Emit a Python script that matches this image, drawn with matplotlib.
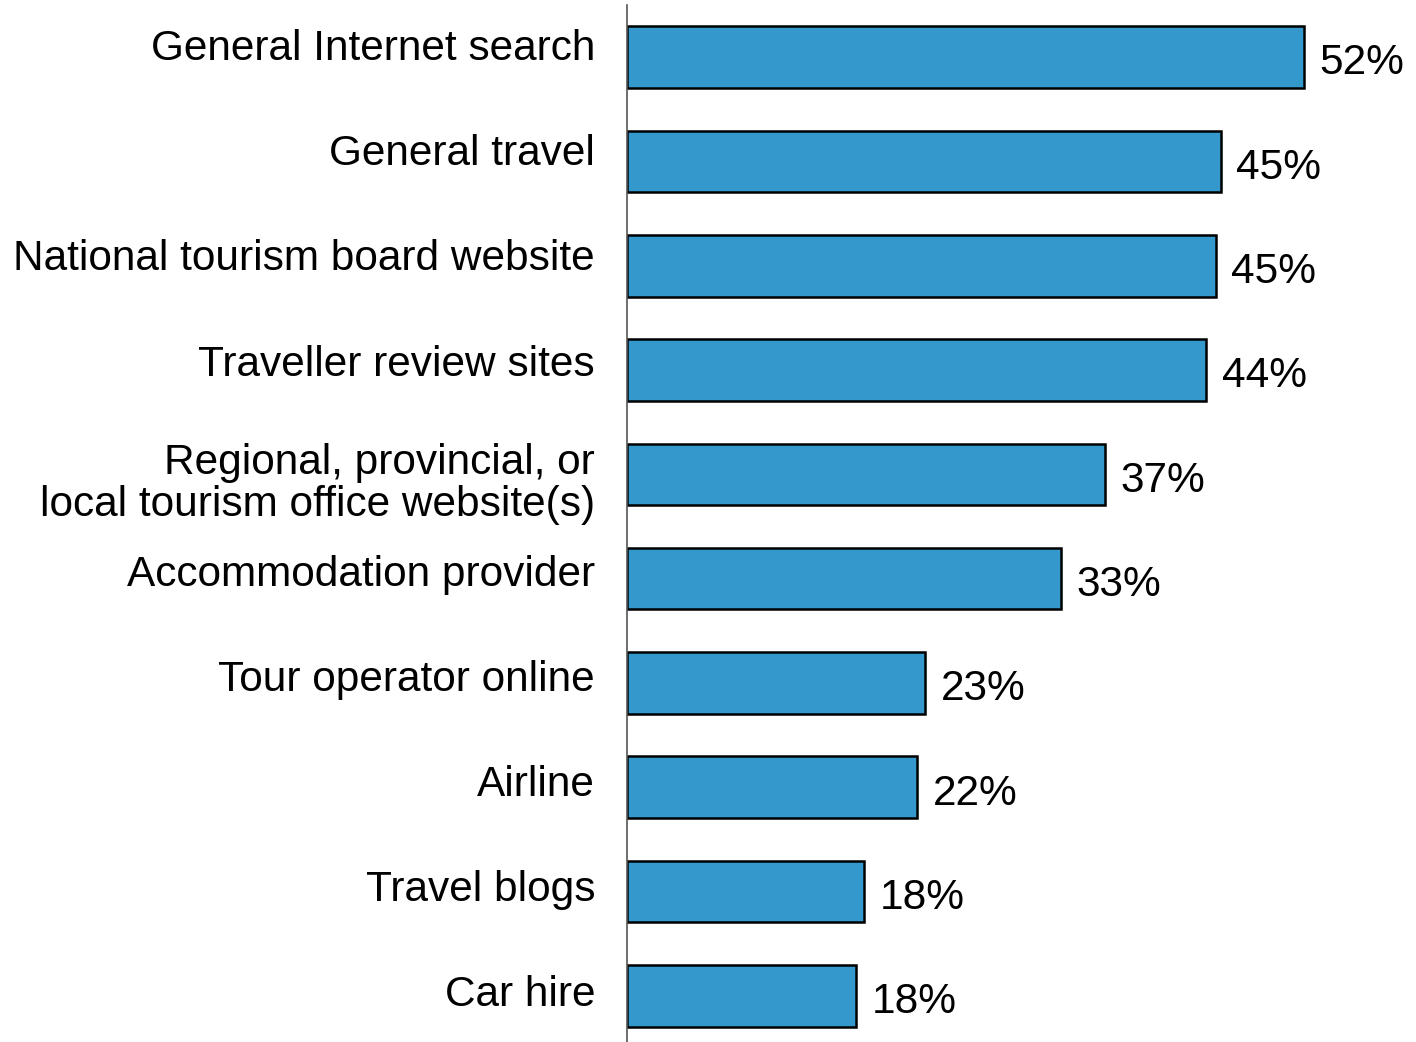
import matplotlib
matplotlib.use('Agg')
import matplotlib.pyplot as plt
from matplotlib.transforms import ScaledTranslation

# data (bar lengths slightly unrounded, labels rounded)
categories = ["General Internet search", "General travel", "National tourism board website",
              "Traveller review sites", "Regional, provincial, or\nlocal tourism office website(s)",
              "Accommodation provider", "Tour operator online", "Airline", "Travel blogs", "Car hire"]
values = [52.0, 45.6, 45.2, 44.5, 36.7, 33.3, 22.9, 22.3, 18.2, 17.6]
labels = ["52%", "45%", "45%", "44%", "37%", "33%", "23%", "22%", "18%", "18%"]

plt.rcParams['font.family'] = ['Liberation Sans', 'DejaVu Sans']

fig = plt.figure(figsize=(14.16, 10.42), dpi=100)
ax = fig.add_axes([627 / 1416, -6 / 1042, 1 - 627 / 1416, 1 + 1 / 1042])

y = range(len(categories))
ax.barh(y, values, height=0.59, color="#3498cc", edgecolor="black", linewidth=1.8)
for i, (v, lab) in enumerate(zip(values, labels)):
    ax.text(v + 1.2, i + 0.06, lab, va="center", ha="left", fontsize=30.5)

ax.set_yticks(list(y))
ax.set_yticklabels(categories, fontsize=30.5, linespacing=1.08)
ax.tick_params(axis="y", length=0, pad=23)
# labels in the original sit above the bar centre, less so further down
for i, lab in enumerate(ax.get_yticklabels()):
    if "\n" in lab.get_text():
        dy = -3
    else:
        dy = (12.5 - 0.85 * i) * 0.72
    lab.set_transform(lab.get_transform() + ScaledTranslation(0, dy / 72, fig.dpi_scale_trans))
ax.set_xticks([])
ax.set_ylim(9.5, -0.5)
ax.set_xlim(0, 789 / 13.02)
for s in ["top", "right", "bottom"]:
    ax.spines[s].set_visible(False)
ax.spines["left"].set_color("#555555")
ax.spines["left"].set_linewidth(1.2)

fig.savefig("out.png", dpi=100)
